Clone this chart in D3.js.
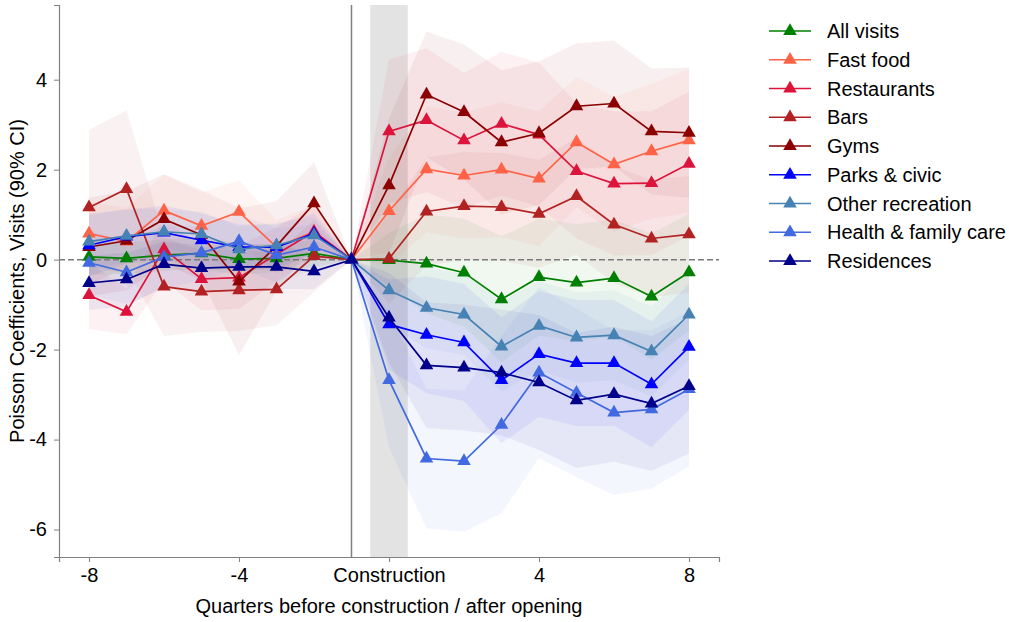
<!DOCTYPE html>
<html>
<head>
<meta charset="utf-8">
<script src="https://cdn.jsdelivr.net/npm/d3@7"></script>
<style>
  body { margin: 0; background: #fff; }
  svg { font-family: "Liberation Sans", Arial, sans-serif; }
</style>
</head>
<body>
<svg id="chart" width="1009" height="622"></svg>
<script>
// quarters: -8..-2 pre, -1 reference, 0 = construction, 1..8 after opening
var quarters = [-8, -7, -6, -5, -4, -3, -2, -1, 0, 1, 2, 3, 4, 5, 6, 7, 8];
var xTicks = [-8, -4, 0, 4, 8];
var xTickLabels = ["-8", "-4", "Construction", "4", "8"];
var yTicks = [-6, -4, -2, 0, 2, 4];

var seriesNames = ["All visits", "Fast food", "Restaurants", "Bars", "Gyms",
  "Parks & civic", "Other recreation", "Health & family care", "Residences"];
var seriesColors = ["#008000", "#ff6347", "#dc143c", "#b22222", "#8b0000",
  "#0000ff", "#4682b4", "#4169e1", "#00008b"];

// point estimates
var allVisits   = [0.06, 0.03, 0.10, 0.14, 0.01, 0.03, 0.14, 0, -0.01, -0.09, -0.29, -0.88, -0.39, -0.51, -0.41, -0.82, -0.28];
var fastFood    = [0.58, 0.40, 1.09, 0.75, 1.06, 0.28, 0.62, 0, 1.08, 2.01, 1.87, 2.00, 1.80, 2.61, 2.12, 2.41, 2.65];
var restaurants = [-0.79, -1.16, 0.23, -0.43, -0.40, 0.12, 0.62, 0, 2.85, 3.10, 2.65, 3.02, 2.78, 1.97, 1.69, 1.70, 2.13];
var bars        = [1.16, 1.57, -0.60, -0.71, -0.68, -0.66, 0.08, 0, 0.02, 1.07, 1.19, 1.17, 1.02, 1.41, 0.78, 0.47, 0.56];
var gyms        = [0.28, 0.42, 0.90, 0.55, -0.49, 0.30, 1.25, 0, 1.65, 3.67, 3.28, 2.61, 2.81, 3.41, 3.47, 2.85, 2.82];
var parks       = [0.32, 0.51, 0.60, 0.43, 0.28, 0.28, 0.58, 0, -1.44, -1.67, -1.84, -2.68, -2.10, -2.30, -2.30, -2.77, -1.94];
var otherRec    = [0.40, 0.53, 0.62, 0.57, 0.23, 0.32, 0.54, 0, -0.68, -1.07, -1.22, -1.93, -1.47, -1.73, -1.68, -2.04, -1.22];
var health      = [-0.07, -0.28, 0.06, 0.15, 0.41, 0.10, 0.28, 0, -2.68, -4.42, -4.48, -3.67, -2.51, -2.96, -3.40, -3.33, -2.88];
var residences  = [-0.52, -0.44, -0.10, -0.19, -0.16, -0.16, -0.26, 0, -1.29, -2.35, -2.40, -2.51, -2.73, -3.13, -2.99, -3.20, -2.81];

// 90% CI half widths
var allVisitsCI   = [0.40, 0.35, 0.35, 0.35, 0.35, 0.30, 0.30, 0, 0.60, 1.10, 1.20, 1.40, 1.30, 1.30, 1.30, 1.40, 1.30];
var fastFoodCI    = [0.70, 0.75, 0.80, 0.75, 0.70, 0.60, 0.60, 0, 1.20, 1.40, 1.40, 1.50, 1.50, 1.45, 1.50, 1.50, 1.60];
var restaurantsCI = [0.75, 0.50, 0.70, 0.70, 0.70, 0.60, 0.60, 0, 1.60, 1.60, 1.50, 1.60, 1.60, 1.50, 1.60, 1.60, 1.60];
var barsCI        = [1.72, 1.75, 1.10, 0.90, 0.90, 0.80, 0.80, 0, 1.00, 1.20, 1.20, 1.20, 1.20, 1.30, 1.30, 1.30, 1.30];
var gymsCI        = [1.10, 1.10, 1.00, 1.00, 1.63, 1.00, 0.92, 0, 1.50, 1.40, 1.50, 1.60, 1.60, 1.40, 1.40, 1.40, 1.45];
var parksCI       = [0.70, 0.60, 0.60, 0.60, 0.50, 0.50, 0.45, 0, 1.00, 1.30, 1.30, 1.40, 1.40, 1.40, 1.40, 1.40, 1.40];
var otherRecCI    = [0.60, 0.60, 0.50, 0.50, 0.50, 0.50, 0.40, 0, 0.80, 0.90, 0.90, 1.00, 1.00, 1.00, 1.00, 1.00, 1.00];
var healthCI      = [0.70, 0.70, 0.70, 0.60, 0.60, 0.60, 0.50, 0, 1.50, 1.55, 1.57, 1.97, 1.90, 1.87, 1.83, 1.76, 1.72];
var residencesCI  = [0.60, 0.60, 0.50, 0.50, 0.50, 0.50, 0.40, 0, 1.00, 1.40, 1.40, 1.40, 1.50, 1.50, 1.50, 1.50, 1.50];

var seriesValues = [allVisits, fastFood, restaurants, bars, gyms, parks, otherRec, health, residences];
var seriesCI = [allVisitsCI, fastFoodCI, restaurantsCI, barsCI, gymsCI, parksCI, otherRecCI, healthCI, residencesCI];

var plotL = 59, plotR = 719, plotT = 5, plotB = 557;

var x = d3.scaleLinear().domain([-8.8, 8.8]).range([plotL, plotR]);
var y = d3.scaleLinear().domain([-6.61, 5.66]).range([plotB, plotT]);

var svg = d3.select("#chart");

// construction period shading
svg.append("rect")
  .attr("x", x(-0.5)).attr("y", plotT)
  .attr("width", x(0.5) - x(-0.5)).attr("height", plotB - plotT)
  .attr("fill", "#d4d4d4").attr("opacity", 0.65);

var series = seriesNames.map(function (name, i) {
  return {
    name: name,
    color: seriesColors[i],
    points: quarters.map(function (q, j) {
      return { q: q, v: seriesValues[i][j], ci: seriesCI[i][j] };
    })
  };
});

// confidence bands
var area = d3.area()
  .x(function (d) { return x(d.q); })
  .y0(function (d) { return y(d.v - d.ci); })
  .y1(function (d) { return y(d.v + d.ci); });

svg.append("g").selectAll("path").data(series).enter().append("path")
  .attr("d", function (d) { return area(d.points); })
  .attr("fill", function (d) { return d.color; })
  .attr("fill-opacity", 0.06);

// zero line and reference line
svg.append("line")
  .attr("x1", plotL).attr("x2", plotR)
  .attr("y1", y(0)).attr("y2", y(0))
  .attr("stroke", "#7a7a7a").attr("stroke-width", 1.5)
  .attr("stroke-dasharray", "6,3");

svg.append("line")
  .attr("x1", x(-1)).attr("x2", x(-1))
  .attr("y1", plotT).attr("y2", plotB)
  .attr("stroke", "#808080").attr("stroke-width", 1.5);

// lines + markers
var line = d3.line()
  .x(function (d) { return x(d.q); })
  .y(function (d) { return y(d.v); });

var tri = d3.symbol().type(d3.symbolTriangle).size(80);

var groups = svg.append("g").selectAll("g.series").data(series).enter().append("g")
  .attr("class", "series");

groups.append("path")
  .attr("d", function (d) { return line(d.points); })
  .attr("fill", "none")
  .attr("stroke", function (d) { return d.color; })
  .attr("stroke-width", 1.7);

groups.each(function (s) {
  d3.select(this).selectAll("path.mk").data(s.points).enter().append("path")
    .attr("class", "mk")
    .attr("d", tri)
    .attr("transform", function (d) { return "translate(" + x(d.q) + "," + y(d.v) + ")"; })
    .attr("fill", s.color);
});

// axes
var xAxis = d3.axisBottom(x).tickValues(xTicks)
  .tickFormat(function (d, i) { return xTickLabels[i]; })
  .tickSizeOuter(0).tickSize(5).tickPadding(6);
var gx = svg.append("g").attr("transform", "translate(0," + plotB + ")").call(xAxis);

var yAxis = d3.axisLeft(y).tickValues(yTicks)
  .tickFormat(function (d) { return d < 0 ? "-" + Math.abs(d) : String(d); })
  .tickSizeOuter(0).tickSize(5).tickPadding(7);
var gy = svg.append("g").attr("transform", "translate(" + plotL + ",0)").call(yAxis);

[gx, gy].forEach(function (g) {
  g.select(".domain").attr("stroke", "#808080").attr("stroke-width", 1.2);
  g.selectAll(".tick line").attr("stroke", "#808080");
  g.selectAll(".tick text").attr("fill", "#000").attr("font-size", 20)
    .attr("font-family", "Liberation Sans, Arial, sans-serif");
});

svg.append("text")
  .attr("x", (plotL + plotR) / 2).attr("y", 613)
  .attr("text-anchor", "middle").attr("font-size", 20)
  .text("Quarters before construction / after opening");

svg.append("text")
  .attr("transform", "translate(24," + ((plotT + plotB) / 2) + ") rotate(-90)")
  .attr("text-anchor", "middle").attr("font-size", 20)
  .text("Poisson Coefficients, Visits (90% CI)");

// legend
var legend = svg.append("g").attr("transform", "translate(769,31)");
var rows = legend.selectAll("g").data(series).enter().append("g")
  .attr("transform", function (d, i) { return "translate(0," + (i * 28.75) + ")"; });
rows.append("line").attr("x1", 0).attr("x2", 42)
  .attr("stroke", function (d) { return d.color; }).attr("stroke-width", 1.7);
rows.append("path").attr("d", tri).attr("transform", "translate(21,0)")
  .attr("fill", function (d) { return d.color; });
rows.append("text").attr("x", 58).attr("y", 7).attr("font-size", 20)
  .text(function (d) { return d.name; });
</script>
</body>
</html>
